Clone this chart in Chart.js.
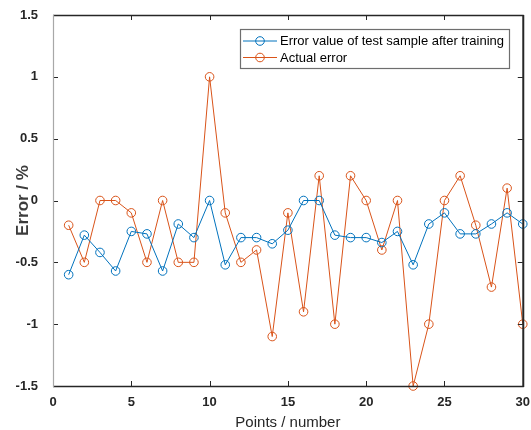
<!DOCTYPE html>
<html><head><meta charset="utf-8">
<script src="https://cdn.jsdelivr.net/npm/chart.js@4"></script>
<style>html,body{margin:0;padding:0;background:#fff}#wrap{width:531px;height:430px;position:relative}</style>
</head><body><div id="wrap"><canvas id="c" width="531" height="430"></canvas></div>
<script>
const pointNumbers = [1,2,3,4,5,6,7,8,9,10,11,12,13,14,15,16,17,18,19,20,21,22,23,24,25,26,27,28,29,30];
const predictedError = [-0.60,-0.28,-0.42,-0.57,-0.25,-0.27,-0.57,-0.19,-0.30,0.00,-0.52,-0.30,-0.30,-0.35,-0.24,0.00,0.00,-0.28,-0.30,-0.30,-0.34,-0.25,-0.52,-0.19,-0.10,-0.27,-0.27,-0.19,-0.10,-0.19];
const actualError = [-0.20,-0.50,0.00,0.00,-0.10,-0.50,0.00,-0.50,-0.50,1.00,-0.10,-0.50,-0.40,-1.10,-0.10,-0.90,0.20,-1.00,0.20,0.00,-0.40,0.00,-1.50,-1.00,0.00,0.20,-0.20,-0.70,0.10,-1.00];
const xTickValues = [0,5,10,15,20,25,30];
const yTickValues = [-1.5,-1,-0.5,0,0.5,1,1.5];
const seriesNames = ['Error value of test sample after training','Actual error'];
const seriesColors = ['#0072BD','#D95319'];

const FONT = "'Liberation Sans', Arial, Helvetica, sans-serif";

const boxPlugin = {
  id: 'matlabBox',
  afterDatasetsDraw(chart) {
    const {ctx, chartArea: a, scales: {x, y}} = chart;
    ctx.save();
    const tl = 5;
    ctx.strokeStyle = '#262626';
    ctx.lineWidth = 1;
    ctx.beginPath();
    xTickValues.forEach(v => {
      const px = Math.round(x.getPixelForValue(v)) + 0.5;
      ctx.moveTo(px, a.bottom); ctx.lineTo(px, a.bottom - tl);
      ctx.moveTo(px, a.top); ctx.lineTo(px, a.top + tl);
    });
    yTickValues.forEach(v => {
      const py = Math.round(y.getPixelForValue(v)) + 0.5;
      ctx.moveTo(a.left, py); ctx.lineTo(a.left + tl, py);
      ctx.moveTo(a.right, py); ctx.lineTo(a.right - tl, py);
    });
    ctx.stroke();
    ctx.lineWidth = 1.3;
    ctx.beginPath();
    ctx.moveTo(a.left, a.top + 0.5); ctx.lineTo(a.right + 1, a.top + 0.5);
    ctx.moveTo(a.left, a.bottom + 0.5); ctx.lineTo(a.right + 1, a.bottom + 0.5);
    ctx.stroke();
    ctx.lineWidth = 2;
    ctx.beginPath();
    ctx.moveTo(a.right + 0.5, a.top); ctx.lineTo(a.right + 0.5, a.bottom + 1);
    ctx.stroke();
    ctx.strokeStyle = '#a8a8a8';
    ctx.lineWidth = 1.2;
    ctx.beginPath();
    ctx.moveTo(a.left + 0.5, a.top); ctx.lineTo(a.left + 0.5, a.bottom + 1);
    ctx.stroke();
    ctx.restore();
  },
  afterDraw(chart) {
    const {ctx} = chart;
    const bx = 240.5, by = 29.5, bw = 269, bh = 39;
    ctx.save();
    ctx.fillStyle = '#fff';
    ctx.fillRect(bx, by, bw, bh);
    ctx.strokeStyle = '#6e6e6e';
    ctx.lineWidth = 1.2;
    ctx.strokeRect(bx, by, bw, bh);
    ctx.font = '13px ' + FONT;
    ctx.textBaseline = 'middle';
    chart.data.datasets.forEach((ds, i) => {
      const cy = 41 + i * 16.5;
      ctx.strokeStyle = ds.borderColor;
      ctx.lineWidth = 1;
      ctx.beginPath();
      ctx.moveTo(243, cy); ctx.lineTo(277, cy);
      ctx.stroke();
      ctx.beginPath();
      ctx.arc(260, cy, 4.3, 0, Math.PI * 2);
      ctx.stroke();
      ctx.fillStyle = '#000';
      ctx.fillText(ds.label, 280, cy + 0.5);
    });
    ctx.restore();
  }
};

new Chart(document.getElementById('c'), {
  type: 'line',
  data: {
    labels: pointNumbers,
    datasets: [
      { label: seriesNames[0], data: pointNumbers.map((p, i) => ({x: p, y: predictedError[i]})),
        borderColor: seriesColors[0], backgroundColor: 'transparent', borderWidth: 1,
        pointRadius: 4.3, pointBorderWidth: 1, pointBackgroundColor: 'transparent', pointBorderColor: seriesColors[0],
        tension: 0, clip: false },
      { label: seriesNames[1], data: pointNumbers.map((p, i) => ({x: p, y: actualError[i]})),
        borderColor: seriesColors[1], backgroundColor: 'transparent', borderWidth: 1,
        pointRadius: 4.3, pointBorderWidth: 1, pointBackgroundColor: 'transparent', pointBorderColor: seriesColors[1],
        tension: 0, clip: false }
    ]
  },
  options: {
    responsive: false,
    animation: false,
    events: [],
    layout: { padding: { top: 15, right: 3, left: 0, bottom: 0 } },
    plugins: { legend: { display: false }, tooltip: { enabled: false } },
    scales: {
      x: {
        type: 'linear', min: 0, max: 30,
        afterBuildTicks: s => { s.ticks = xTickValues.map(v => ({value: v})); },
        afterFit: s => { s.height = 44; },
        grid: { display: false },
        border: { display: false },
        ticks: { color: '#262626', font: { family: FONT, size: 13, weight: 'bold' }, padding: 1, maxRotation: 0,
                 callback: v => String(v) },
        title: { display: true, text: 'Points / number', color: '#262626',
                 font: { family: FONT, size: 15, lineHeight: 1 }, padding: 0 }
      },
      y: {
        type: 'linear', min: -1.5, max: 1.5,
        afterBuildTicks: s => { s.ticks = yTickValues.map(v => ({value: v})); },
        afterFit: s => { s.width = 53; },
        grid: { display: false },
        border: { display: false },
        ticks: { color: '#262626', font: { family: FONT, size: 13, weight: 'bold' }, padding: 7,
                 callback: v => String(v) },
        title: { display: true, text: 'Error / %', color: '#3c3c3c',
                 font: { family: FONT, size: 17, weight: 'bold' }, padding: { top: 13, bottom: 0 } }
      }
    }
  },
  plugins: [boxPlugin]
});
</script></body></html>
